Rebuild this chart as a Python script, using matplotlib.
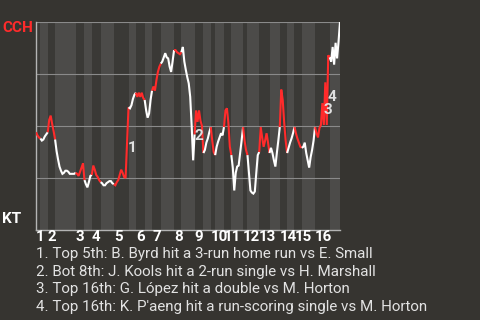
import matplotlib
matplotlib.use("Agg")
import matplotlib.pyplot as plt

plt.rcParams['font.family'] = ['Roboto', 'DejaVu Sans']

# win probability for CCH (percent) after each play, grouped by half-inning
start_wp = 47
halves = ["T1", "B1", "T2", "B2", "T3", "B3", "T4", "B4", "T5", "B5", "T6", "B6",
          "T7", "B7", "T8", "B8", "T9", "B9", "T10", "B10", "T11", "B11", "T12", "B12",
          "T13", "B13", "T14", "B14", "T15", "B15", "T16", "B16"]
wp = [
    [45.5, 44.5, 44],
    [43, 43.5, 45, 46, 47],
    [53, 55, 51, 47.5, 43.5],
    [38, 34, 30.5, 28.5, 27, 27.5, 28.5, 28.5, 28, 27, 27, 27, 27, 27.5],
    [27, 26, 28, 30, 32, 24],
    [22, 20.5, 23, 26, 26.5],
    [31, 29, 26.5, 25.5, 24, 23],
    [22.5, 21.5, 21.5, 22.5, 23, 23.5, 23.5, 22.5, 22],
    [21.5, 23, 24, 26.5, 29, 27.5, 25.5, 25, 42, 59],
    [58.5, 60, 63, 65, 66],
    [64, 66, 64, 66, 63.5, 62.5],
    [57.5, 54, 56, 62.5, 67],
    [69, 67, 72, 76, 78.5, 80],
    [81, 83, 85, 83, 82.5, 78.5, 76, 81, 86.5],
    [86.5, 85.5, 85, 84.5, 85.5],
    [88, 81, 77, 73.5, 70.5, 64, 50, 33.5, 46],
    [57.5, 52, 57.5, 52.5, 50, 37],
    [38.5, 42, 44, 47, 49.5],
    [43, 37.5, 36],
    [40, 42.5, 44.5, 46.5, 45.5, 49.5],
    [57.5, 58.5, 51.5, 40, 36],
    [30, 19, 27.5, 30.5, 31, 37, 43, 49.5],
    [43, 38.5, 36],
    [27.5, 19, 18, 17.5, 18.5, 27.5, 36, 37.5],
    [49.5, 44.5, 40, 43, 46.5, 42, 37],
    [39.5, 37, 33.5, 30.5, 37, 43, 49.5],
    [67.5, 62.5, 51.5, 43, 37],
    [39.5, 42, 44, 46.5, 49.5],
    [46.5, 44, 42, 40, 39.5],
    [40, 42, 37, 33.5, 30, 35, 38.5, 43, 49.5],
    [46.5, 44.5, 49, 50.5, 61, 50.5, 71, 50.5, 84, 83],
    [81, 88, 79.5, 90, 82.5, 90.5, 100],
]

# key plays: (half-inning, play index within it)
events = [("T5", 9), ("B8", 7), ("T16", 6), ("T16", 8)]
event_text = [
    "1. Top 5th: B. Byrd hit a 3-run home run vs E. Small",
    "2. Bot 8th: J. Kools hit a 2-run single vs H. Marshall",
    "3. Top 16th: G. L\u00f3pez hit a double vs M. Horton",
    "4. Top 16th: K. P'aeng hit a run-scoring single vs M. Horton",
]
label_offsets = [(4, -41), (5.5, 24), (2.5, -28), (3.5, -42)]  # pixels

bg = "#363430"
top_band = "#3a3936"
bot_band = "#4c4b49"
red = "#ff2b2b"

fig = plt.figure(figsize=(4.8, 3.2), dpi=100, facecolor=bg)
ax = fig.add_axes([0.075, 0.28125, 0.63333, 0.65])
ax.set_facecolor(bg)

# x position where each half-inning starts
starts = []
pos = 0
for vals in wp:
    starts.append(pos)
    pos += len(vals)
total = pos

# shaded half-inning bands and the line
prev = start_wp
for i, vals in enumerate(wp):
    s = starts[i]
    is_top = halves[i].startswith("T")
    ax.axvspan(s, s + len(vals), color=top_band if is_top else bot_band, lw=0, zorder=0)
    xs = list(range(s, s + len(vals) + 1))
    ys = [prev] + vals
    ax.plot(xs, ys, color=red if is_top else "white", lw=1.5, zorder=3,
            solid_joinstyle="miter", solid_capstyle="butt")
    prev = vals[-1]

for g in [25, 50, 75, 100]:
    ax.axhline(g, color="#8a8a8a", lw=0.8, zorder=1)

ax.set_xlim(0, total)
ax.set_ylim(0, 100)
for side in ["top", "right"]:
    ax.spines[side].set_visible(False)
for side in ["left", "bottom"]:
    ax.spines[side].set_color("#b4b4b4")
    ax.spines[side].set_linewidth(1)
ax.set_xticks([])
ax.set_yticks([])

# inning numbers at the start of each top half
for i, h in enumerate(halves):
    if h.startswith("T"):
        ax.text(starts[i], -0.032, h[1:], transform=ax.get_xaxis_transform(),
                ha="left", va="center", color="white", fontsize=10.8, fontweight="bold")

# event markers
for (h, k), (dx, dy), n in zip(events, label_offsets, range(1, 5)):
    i = halves.index(h)
    ax.annotate(str(n), xy=(starts[i] + k + 1, wp[i][k]), xytext=(dx, dy),
                textcoords="offset pixels", ha="center", va="center",
                color="#e0e0e0", fontsize=11, fontweight="bold", zorder=4)

# team names
fig.text(2 / 480, 1 - 28 / 320, "CCH", color=red, fontsize=11, fontweight="bold",
         ha="left", va="center")
fig.text(2 / 480, 1 - 219 / 320, "KT", color="white", fontsize=11, fontweight="bold",
         ha="left", va="center")

# descriptions
for j, t in enumerate(event_text):
    fig.text(36 / 480, 1 - (258.3 + 17.6 * j) / 320, t, color="#e2e2e2", fontsize=10.9,
             ha="left", va="baseline")

fig.savefig("out.png", dpi=100, facecolor=bg)
